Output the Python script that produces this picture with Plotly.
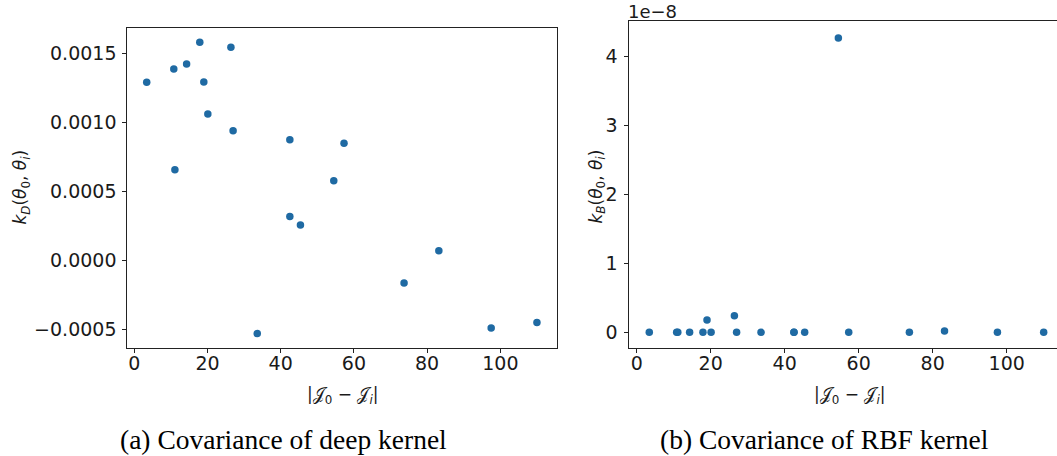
import plotly.graph_objects as go

# ---- data ----
dist = [3.4, 10.8, 14.3, 17.9, 26.4, 19.0, 20.1, 27.0, 11.1, 42.5,
        57.3, 54.5, 42.5, 45.4, 83.2, 73.7, 33.6, 97.5, 110.0]
k_deep = [0.001293, 0.00139, 0.001426, 0.001584, 0.001547, 0.001295, 0.001063,
          0.000942, 0.000659, 0.000877, 0.000852, 0.000579, 0.00032, 0.000259,
          0.0000726, -0.000162, -0.000528, -0.000487, -0.000448]
k_rbf = [0.0, 0.0, 0.0, 0.0, 0.24e-8, 0.18e-8, 0.0, 0.0, 0.0, 0.0,
         0.0, 4.27e-8, 0.0, 0.0, 0.02e-8, 0.0, 0.0, 0.0, 0.0]

x_ticks = [0, 20, 40, 60, 80, 100]
deep_ticks = [-0.0005, 0.0, 0.0005, 0.0010, 0.0015]
deep_tick_text = ["\u22120.0005", "0.0000", "0.0005", "0.0010", "0.0015"]
rbf_ticks = [0, 1e-8, 2e-8, 3e-8, 4e-8]
rbf_tick_text = ["0", "1", "2", "3", "4"]

W, H = 1057, 456
MARK = "#1f6aa3"
AX = "#222222"
TXT = "#1a1a1a"
FONT = "DejaVu Sans"

fig = go.Figure()
fig.add_trace(go.Scatter(x=dist, y=k_deep, mode="markers", xaxis="x", yaxis="y",
                         marker=dict(size=7.5, color=MARK), showlegend=False))
fig.add_trace(go.Scatter(x=dist, y=k_rbf, mode="markers", xaxis="x2", yaxis="y2",
                         marker=dict(size=7.5, color=MARK), showlegend=False))


def px(x):
    return x / W


def py(y):
    return 1 - y / H


common = dict(showgrid=False, zeroline=False, showline=True, linecolor=AX, linewidth=1,
              ticks="outside", ticklen=4, tickwidth=1, tickcolor=AX,
              tickfont=dict(family=FONT, size=19, color=TXT))
xcommon = dict(common, ticklabelstandoff=-6)
ycommon = dict(common, ticklabelstandoff=2)

fig.update_layout(
    width=W, height=H, margin=dict(l=0, r=0, t=0, b=0),
    paper_bgcolor="white", plot_bgcolor="white",
    xaxis=dict(domain=[px(127.3), px(556.7)], range=[-1.9, 115.4], anchor="y",
               tickvals=x_ticks, mirror=True, **xcommon),
    yaxis=dict(domain=[py(347.7), py(27.5)], range=[-0.000630, 0.001690], anchor="x",
               tickvals=deep_ticks, ticktext=deep_tick_text, mirror=True, **ycommon),
    xaxis2=dict(domain=[px(628.5), 1.0], range=[-2.22, 113.6], anchor="y2",
                tickvals=x_ticks, mirror=True, **xcommon),
    yaxis2=dict(domain=[py(348.3), py(21.0)], range=[-0.232e-8, 4.518e-8], anchor="x2",
                tickvals=rbf_ticks, ticktext=rbf_tick_text, mirror=False, **ycommon),
)

ann_font = dict(family=FONT, size=17, color=TXT)
xtitle = "|\U0001D4A5<sub>0</sub> \u2212 \U0001D4A5<sub><i>i</i></sub>|"


def ann(text, x, y, font, xanchor="center", yanchor="middle", angle=0):
    fig.add_annotation(text=text, x=px(x), y=py(y), xref="paper", yref="paper",
                       xanchor=xanchor, yanchor=yanchor, textangle=angle,
                       showarrow=False, font=font)


ann("<i>k<sub>D</sub></i>(<i>\u03b8</i><sub>0</sub>, <i>\u03b8<sub>i</sub></i>)",
    22, 187.6, ann_font, angle=-90)
ann("<i>k<sub>B</sub></i>(<i>\u03b8</i><sub>0</sub>, <i>\u03b8<sub>i</sub></i>)",
    597, 186.5, ann_font, angle=-90)
ann(xtitle, 342, 395, ann_font)
ann(xtitle, 849, 395, ann_font)
ann("1e\u22128", 626, 12, dict(family=FONT, size=18, color=TXT), xanchor="left")

cap_font = dict(family="Liberation Serif", size=27.5, color="black")
ann("(a) Covariance of deep kernel", 283.5, 439, cap_font)
ann("(b) Covariance of RBF kernel", 824, 439, cap_font)

fig.write_html("out.html", config={"displayModeBar": False},
               post_script="document.body.style.margin='0px';")
